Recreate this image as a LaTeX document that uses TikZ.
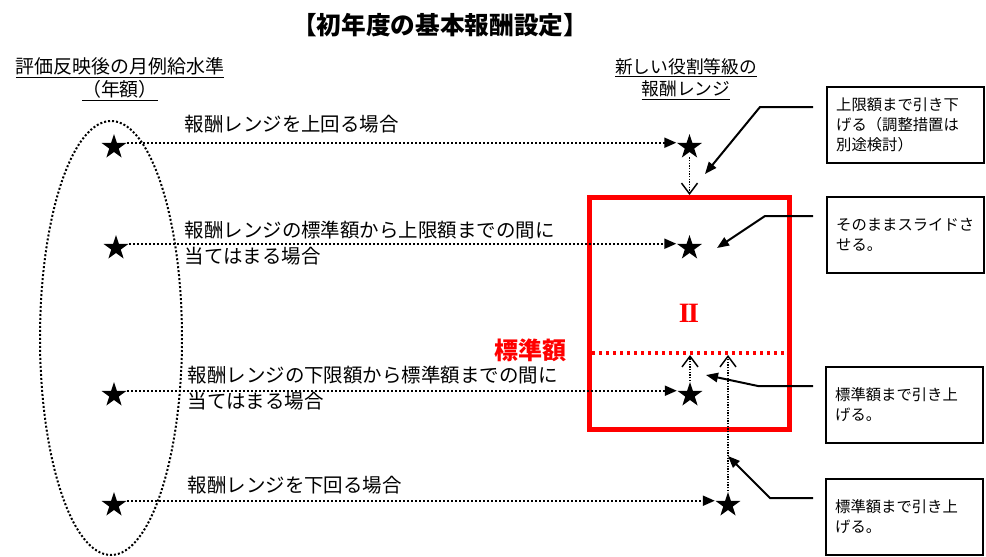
\documentclass[tikz,border=0pt]{standalone}
\usepackage{fontspec}
\setmainfont{Noto Sans CJK JP}
\newfontfamily\romnum{Liberation Serif}
\usetikzlibrary{calc, arrows.meta, shapes.geometric}

\begin{document}
\begin{tikzpicture}[x=0.75pt,y=-0.75pt,
    bigstar/.style={star, star points=5, star point ratio=2.6, fill=black, inner sep=0pt, minimum size=19.5pt},
    dotline/.style={line width=1.5pt, dash pattern=on 1.5pt off 1.5pt},
    dotarrow/.style={dotline, -{Triangle[length=9pt,width=7.5pt]}},
    liftarrow/.style={line width=1pt, dash pattern=on 1pt off 1pt, -{Straight Barb[length=8pt,width=12pt,line width=1.1pt]}},
    note/.style={draw, line width=1.5pt, minimum width=117.75pt, minimum height=57pt, text width=104pt, inner xsep=6.5pt, align=left, font=\fontsize{11.5}{15}\selectfont},
    callout/.style={line width=1.5pt, -{Triangle[length=9pt,width=7pt]}},
    case/.style={anchor=west, align=left, font=\fontsize{14.6}{19.5}\selectfont}]
            \useasboundingbox (0,0) rectangle (986,557);
            % title and headings
            \node[font=\fontsize{18.5}{20}\selectfont\bfseries] (title) at (440,25) {【初年度の基本報酬設定】};
            \node[align=center, font=\fontsize{14.2}{17}\selectfont] (headL) at (120,79) {\underline{評価反映後の月例給水準}\\\underline{（年額）}};
            \node[align=center, font=\fontsize{13.3}{17}\selectfont] (headR) at (686,79) {\underline{新しい役割等級の}\\\underline{報酬レンジ}};
            % range box
            \node[draw=red, line width=3.75pt, minimum width=150pt, minimum height=174pt] (band) at (689.5,313.5) {};
            \node[text=red, font=\romnum\fontsize{21}{22}\selectfont\bfseries] (grade) at (689,313) {I\kern-0.06em I};
            \node[text=red, font=\fontsize{18}{20}\selectfont\bfseries] (stdlabel) at (530,350) {標準額};
            \coordinate (stdL) at (592,353);
            \coordinate (stdR) at (790,353);
            \draw[red, line width=2.5pt, dash pattern=on 2.5pt off 2.75pt] (stdL) -- (stdR);
            % current levels
            \draw[dotline] (111,338) ellipse [x radius=71, y radius=217];
            \node[bigstar] (eval1) at (114,147) {};
            \node[bigstar] (eval2) at (116,248) {};
            \node[bigstar] (eval3) at (114,395) {};
            \node[bigstar] (eval4) at (114,505) {};
            \node[bigstar] (rng1) at (689.5,147) {};
            \node[bigstar] (rng2) at (689.5,248) {};
            \node[bigstar] (rng3) at (690,395) {};
            \node[bigstar] (rng4) at (728,505) {};
            \draw[dotarrow] (eval1.outer point 5) -- (rng1.outer point 2);
            \draw[dotarrow] (eval2.outer point 5) -- (rng2.outer point 2);
            \draw[dotarrow] (eval3.outer point 5) -- (rng3.outer point 2);
            \draw[dotarrow] (eval4.outer point 5) -- (rng4.outer point 2);
            \node[case] (case1) at (180,124) {報酬レンジを上回る場合};
            \node[case] (case2) at (180,243) {報酬レンジの標準額から上限額までの間に\\当てはまる場合};
            \node[case] (case3) at (183,388) {報酬レンジの下限額から標準額までの間に\\当てはまる場合};
            \node[case] (case4) at (183,485) {報酬レンジを下回る場合};
            % moves into the range
            \coordinate (up3) at (690,355);
            \coordinate (up4) at (728,355);
            \draw[liftarrow] ($(rng1.south)+(0,5)$) -- (band.north);
            \draw[liftarrow] (rng3.north) -- (up3);
            \draw[liftarrow] (rng4.north) -- (up4);
            % notes
            \node[note] (note1) at (905.5,125) {上限額まで引き下\\げる（調整措置は\\別途検討）};
            \node[note] (note2) at (905.5,235) {そのままスライドさ\\せる。};
            \node[note] (note3) at (904.5,405) {標準額まで引き上\\げる。};
            \node[note] (note4) at (904.5,517) {標準額まで引き上\\げる。};
            \coordinate (from1) at (813,107);
            \coordinate (from2) at (813,216);
            \coordinate (from3) at (813,386);
            \coordinate (from4) at (813,498);
            \coordinate (tip1) at (705,174);
            \coordinate (tip2) at (717,248);
            \coordinate (tip3) at (706,375);
            \coordinate (tip4) at (728,456);
            \draw[callout] (from1) -- (760,107) -- (tip1);
            \draw[callout] (from2) -- (765,216) -- (tip2);
            \draw[callout] (from3) -- (758,386) -- (tip3);
            \draw[callout] (from4) -- (770,498) -- (tip4);
        \end{tikzpicture}
\end{document}
